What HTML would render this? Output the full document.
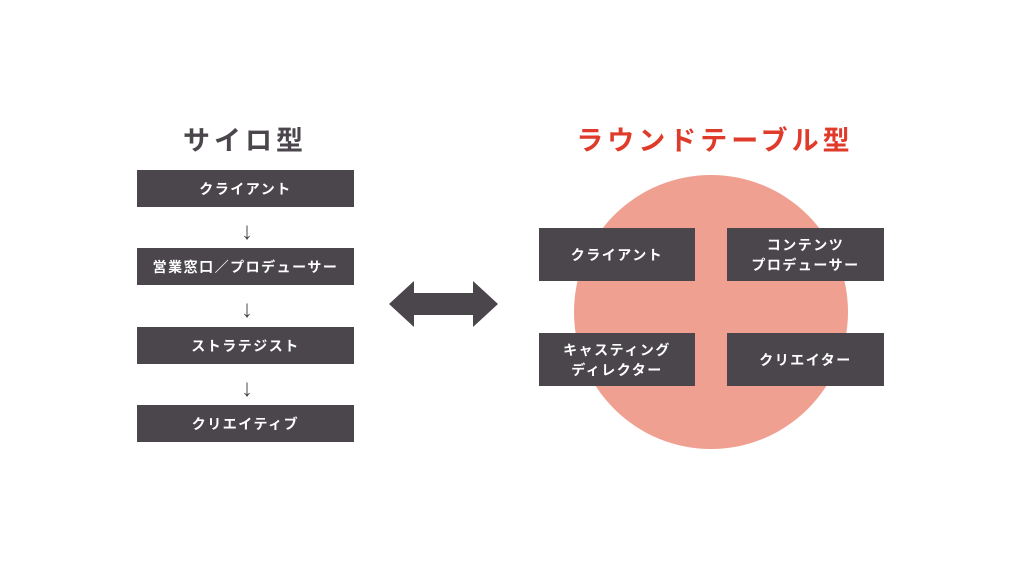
<!DOCTYPE html>
<html><head><meta charset="utf-8"><style>
body{margin:0;width:1024px;height:576px;background:#fff;position:relative;overflow:hidden;font-family:"Liberation Sans","Noto Sans CJK JP",sans-serif;font-weight:bold}
.b{position:absolute;background:#4a464b;color:#fff;display:flex;align-items:center;justify-content:center;text-align:center;font-size:14px;letter-spacing:1.5px;line-height:20px}
.t{position:absolute;font-size:27px;letter-spacing:4px;text-align:center;top:122px;line-height:38px}
.a{position:absolute;left:232px;width:30px;text-align:center;font-size:24px;color:#4a464b;font-weight:normal;line-height:24px}
</style></head><body>
<div class="t" style="left:145px;width:200px;color:#4a464b">サイロ型</div>
<div class="t" style="left:560px;width:310px;color:#e03a2a">ラウンドテーブル型</div>
<div class="b" style="left:137px;top:170px;width:217px;height:37px">クライアント</div>
<div class="b" style="left:137px;top:248px;width:217px;height:37px">営業窓口／プロデューサー</div>
<div class="b" style="left:137px;top:327px;width:217px;height:37px">ストラテジスト</div>
<div class="b" style="left:137px;top:405px;width:217px;height:37px">クリエイティブ</div>
<div class="a" style="top:220px">↓</div>
<div class="a" style="top:298px">↓</div>
<div class="a" style="top:377px">↓</div>
<svg style="position:absolute;left:0;top:0" width="1024" height="576">
<polygon points="389,304 414,281 414,293 473,293 473,281 498,304 473,327 473,315 414,315 414,327" fill="#4a464b"/>
<circle cx="711" cy="312" r="137" fill="#f0a090"/>
</svg>
<div class="b" style="left:539px;top:228px;width:156px;height:53px">クライアント</div>
<div class="b" style="left:727px;top:228px;width:157px;height:53px">コンテンツ<br>プロデューサー</div>
<div class="b" style="left:539px;top:333px;width:156px;height:53px">キャスティング<br>ディレクター</div>
<div class="b" style="left:727px;top:333px;width:157px;height:53px">クリエイター</div>
</body></html>
